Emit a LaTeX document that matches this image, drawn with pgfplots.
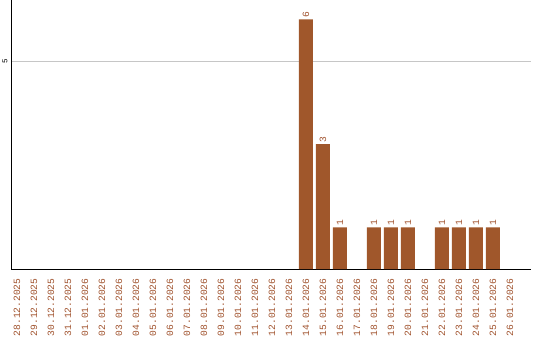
\documentclass[border=0pt]{standalone}
\usepackage{pgfplots}
\pgfplotsset{compat=1.18}
\usepackage{fontspec}
\setmainfont{Liberation Mono}
\definecolor{barc}{RGB}{160,87,43}
\definecolor{txtc}{RGB}{160,82,45}
\begin{document}
\begin{tikzpicture}
\useasboundingbox (-11pt,-71pt) rectangle (529pt,269pt);
\begin{axis}[
  /pgf/number format/assume math mode=true,
  scale only axis, width=520pt, height=269pt,
  xmin=-0.35, xmax=30.24, ymin=0, ymax=6.466,
  axis x line=bottom, axis y line=left,
  axis line style={-, black, line width=0.9pt},
  major tick length=0pt,
  ytick={5}, yticklabel style={font=\fontsize{7.5}{7.5}\selectfont, rotate=90, anchor=south},
  ymajorgrids, grid style={gray!45, line width=0.6pt},
  xtick={0,...,29},
  xticklabels={28.12.2025,29.12.2025,30.12.2025,31.12.2025,01.01.2026,02.01.2026,03.01.2026,04.01.2026,05.01.2026,06.01.2026,07.01.2026,08.01.2026,09.01.2026,10.01.2026,11.01.2026,12.01.2026,13.01.2026,14.01.2026,15.01.2026,16.01.2026,17.01.2026,18.01.2026,19.01.2026,20.01.2026,21.01.2026,22.01.2026,23.01.2026,24.01.2026,25.01.2026,26.01.2026},
  xticklabel style={font=\fontsize{9.6}{9.6}\selectfont, text=txtc, rotate=90, anchor=east, xshift=-6pt},
  clip=false,
  nodes near coords={\pgfmathprintnumber{\pgfplotspointmeta}},
  every node near coord/.append style={font=\fontsize{9.6}{9.6}\selectfont, text=txtc, rotate=90, anchor=west, inner sep=1.5pt},
]
\addplot[ybar, bar width=14pt, fill=barc, draw=none] coordinates {
(17,6) (18,3) (19,1) (21,1) (22,1) (23,1) (25,1) (26,1) (27,1) (28,1)
};
\end{axis}
\end{tikzpicture}
\end{document}
